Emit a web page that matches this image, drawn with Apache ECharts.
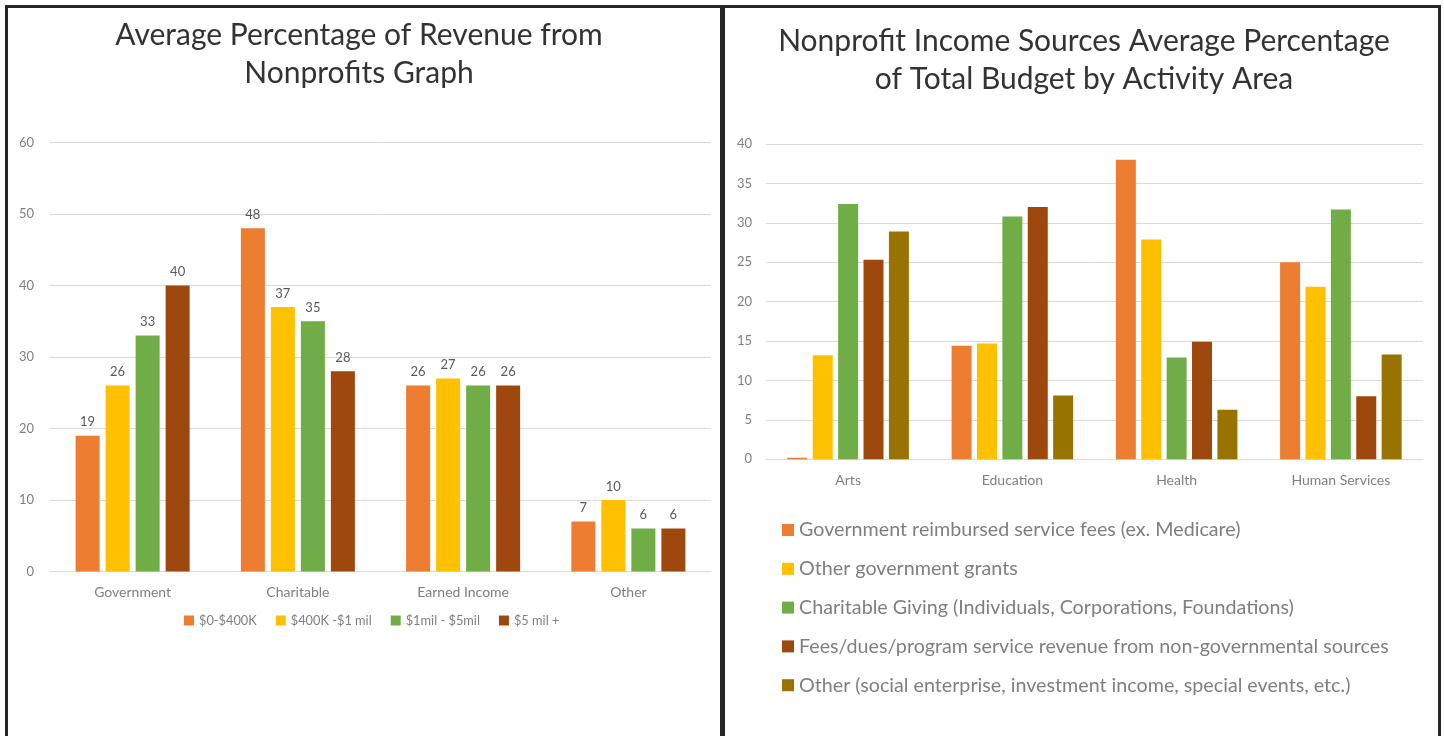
<!DOCTYPE html>
<html>
<head>
<meta charset="utf-8">
<script src="https://cdn.jsdelivr.net/npm/echarts@6/dist/echarts.min.js"></script>
<style>
  html, body { margin: 0; padding: 0; background: #fff; }
  #chart { position: absolute; left: 0; top: 0; width: 1444px; height: 736px; }
  .rule { position: absolute; background: #262626; }
</style>
</head>
<body>
<div id="chart"></div>
<div class="rule" style="left:5px;top:5px;width:1436px;height:3px;"></div>
<div class="rule" style="left:5px;top:5px;width:3px;height:731px;"></div>
<div class="rule" style="left:720px;top:5px;width:5px;height:731px;"></div>
<div class="rule" style="left:1438px;top:5px;width:3px;height:731px;"></div>
<script>
// Revenue share by organisation budget size
const revenueCategories = ['Government', 'Charitable', 'Earned Income', 'Other'];
const budgetBands = ['$0-$400K', '$400K -$1 mil', '$1mil - $5mil', '$5 mil +'];
const bandUnder400K = [19, 48, 26, 7];
const band400KTo1M = [26, 37, 27, 10];
const band1MTo5M = [33, 35, 26, 6];
const band5MPlus = [40, 28, 26, 6];
const leftTicks = { min: 0, max: 60, step: 10 };

// Income sources by activity area
const activityAreas = ['Arts', 'Education', 'Health', 'Human Services'];
const sourceNames = [
  'Government reimbursed service fees (ex. Medicare)',
  'Other government grants',
  'Charitable Giving (Individuals, Corporations, Foundations)',
  'Fees/dues/program service revenue from non-governmental sources',
  'Other (social enterprise, investment income, special events, etc.)'
];
const govServiceFees = [0.2, 14.4, 38.0, 25.0];
const otherGovGrants = [13.2, 14.7, 27.9, 21.9];
const charitableGiving = [32.4, 30.8, 12.9, 31.7];
const nonGovFees = [25.3, 32.0, 14.9, 8.0];
const otherIncome = [28.9, 8.1, 6.3, 13.3];
const rightTicks = { min: 0, max: 40, step: 5 };

const FONT = 'Lato, "Open Sans", sans-serif';
const PALETTE = ['#ED7D31', '#FFC000', '#70AD47', '#9E480E', '#997300'];
const GRID_LINE = '#d9d9d9';
const AXIS_TEXT = '#7f7f7f';

const chart = echarts.init(document.getElementById('chart'), null, { renderer: 'canvas' });

const leftValues = [bandUnder400K, band400KTo1M, band1MTo5M, band5MPlus];
const rightValues = [govServiceFees, otherGovGrants, charitableGiving, nonGovFees, otherIncome];

function catAxis(gridIndex, data) {
  return {
    type: 'category', gridIndex, data,
    axisTick: { show: false },
    axisLine: { lineStyle: { color: GRID_LINE, width: 1 } },
    axisLabel: { color: AXIS_TEXT, fontSize: 14, fontFamily: FONT, margin: 14 }
  };
}
function valAxis(gridIndex, t, margin) {
  return {
    type: 'value', gridIndex, min: t.min, max: t.max, interval: t.step,
    axisLine: { show: false }, axisTick: { show: false },
    splitLine: { lineStyle: { color: GRID_LINE, width: 1 } },
    axisLabel: { color: AXIS_TEXT, fontSize: 13, fontFamily: FONT, margin }
  };
}

const series = [];
budgetBands.forEach((name, i) => {
  series.push({
    name, type: 'bar', xAxisIndex: 0, yAxisIndex: 0,
    data: leftValues[i],
    itemStyle: { color: PALETTE[i] },
    barGap: '25%', barCategoryGap: '31%',
    label: { show: true, position: 'top', distance: 7, color: '#595959', fontSize: 13, fontFamily: FONT },
    emphasis: { disabled: true }
  });
});
sourceNames.forEach((name, i) => {
  series.push({
    name, type: 'bar', xAxisIndex: 1, yAxisIndex: 1,
    data: rightValues[i],
    itemStyle: { color: PALETTE[i] },
    barGap: '27%', barCategoryGap: '26%',
    emphasis: { disabled: true }
  });
});

chart.setOption({
  animation: false,
  textStyle: { fontFamily: FONT },
  title: [
    {
      text: 'Average Percentage of Revenue from\nNonprofits Graph',
      left: 354, top: 11, textAlign: 'center',
      textStyle: { fontSize: 30, fontWeight: 'normal', color: '#333', lineHeight: 38, fontFamily: FONT }
    },
    {
      text: 'Nonprofit Income Sources Average Percentage\nof Total Budget by Activity Area',
      left: 1079, top: 17, textAlign: 'center',
      textStyle: { fontSize: 30, fontWeight: 'normal', color: '#333', lineHeight: 38, fontFamily: FONT }
    }
  ],
  legend: [
    {
      data: budgetBands, left: 179, top: 609, itemWidth: 10, itemHeight: 10, itemGap: 19,
      icon: 'rect', textStyle: { color: AXIS_TEXT, fontSize: 12.8, fontFamily: FONT },
      selectedMode: false
    },
    {
      data: sourceNames, orient: 'vertical', left: 777, top: 515, itemWidth: 12, itemHeight: 12, itemGap: 18.8,
      icon: 'rect', textStyle: { color: AXIS_TEXT, fontSize: 19.7, fontFamily: FONT },
      selectedMode: false
    }
  ],
  grid: [
    { left: 50, top: 142.5, width: 661, height: 429 },
    { left: 766, top: 144, width: 657, height: 315.3 }
  ],
  xAxis: [catAxis(0, revenueCategories), catAxis(1, activityAreas)],
  yAxis: [valAxis(0, leftTicks, 16), valAxis(1, rightTicks, 14)],
  series
});
</script>
</body>
</html>
